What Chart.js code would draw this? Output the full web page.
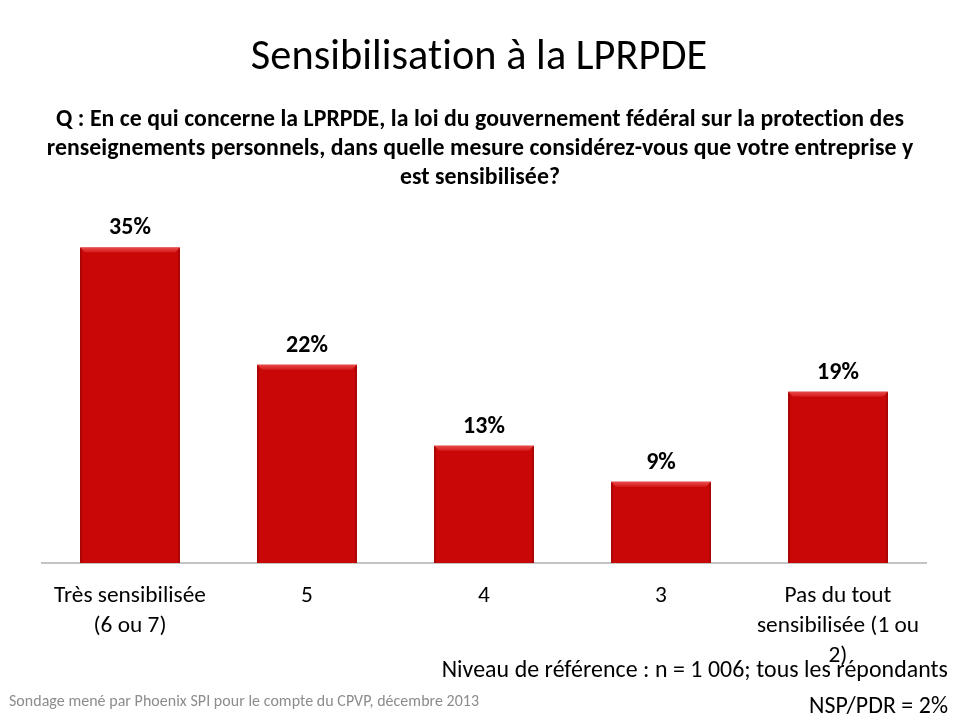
<!DOCTYPE html>
<html><head><meta charset="utf-8">
<script src="https://cdn.jsdelivr.net/npm/chart.js@4.4.1/dist/chart.umd.min.js"></script>
<style>html,body{margin:0;padding:0;background:#fff}#wrap{width:960px;height:720px;position:relative}</style>
</head><body><div id="wrap"><canvas id="c" width="960" height="720"></canvas></div>
<script>
// ---- data ----
const categories = [["Très sensibilisée", "(6 ou 7)"], "5", "4", "3", ["Pas du tout", "sensibilisée (1 ou", "2)"]];
const values = [35, 22, 13, 9, 19];
const valueLabels = ["35%", "22%", "13%", "9%", "19%"];
const yMin = 0, yMax = 40;
const titleText = "Sensibilisation à la LPRPDE";
const questionLines = [
  "Q : En ce qui concerne la LPRPDE, la loi du gouvernement fédéral sur la protection des",
  "renseignements personnels, dans quelle mesure considérez-vous que votre entreprise y",
  "est sensibilisée?"
];
const baseNote = "Niveau de référence : n = 1 006; tous les répondants";
const nspNote = "NSP/PDR = 2%";
const sourceNote = "Sondage mené par Phoenix SPI pour le compte du CPVP, décembre 2013";

// ---- helpers ----
const FAMILY = "Carlito, Lato, 'Open Sans', sans-serif";
const LS = '0.05px';
const mctx = document.createElement('canvas').getContext('2d');
function fitSize(text, weight, target) {
  mctx.font = weight + ' 20px ' + FAMILY;
  if ('letterSpacing' in mctx) mctx.letterSpacing = LS;
  return 20 * target / mctx.measureText(text).width;
}
const tickSize = fitSize("Très sensibilisée", "normal", 153);
const titleSize = fitSize(titleText, "normal", 458);
const qSize = fitSize(questionLines[1], "bold", 868);
const labSize = fitSize("35%", "bold", 42);
const noteSize = fitSize(baseNote, "normal", 507);
const srcSize = fitSize(sourceNote, "normal", 470);

function txt(ctx, s, x, y, size, weight, color, align) {
  ctx.save();
  ctx.font = weight + ' ' + size + 'px ' + FAMILY;
  if ('letterSpacing' in ctx) ctx.letterSpacing = LS;
  ctx.fillStyle = color;
  ctx.textAlign = align;
  ctx.textBaseline = 'alphabetic';
  ctx.fillText(s, x, y);
  ctx.restore();
}

const bevelPlugin = {
  id: 'bevel',
  afterDatasetsDraw(chart) {
    const ctx = chart.ctx;
    chart.getDatasetMeta(0).data.forEach(el => {
      const p = el.getProps(['x', 'y', 'base', 'width'], true);
      const l = p.x - p.width / 2, r = p.x + p.width / 2, t = p.y, b = p.base, d = 5;
      ctx.save();
      const g = ctx.createLinearGradient(0, t, 0, t + d);
      g.addColorStop(0, '#e84a4a');
      g.addColorStop(1, '#d41a1a');
      ctx.fillStyle = g;
      ctx.beginPath();
      ctx.moveTo(l, t); ctx.lineTo(r, t); ctx.lineTo(r - d, t + d); ctx.lineTo(l + d, t + d); ctx.closePath();
      ctx.fill();
      ctx.fillStyle = 'rgba(120,0,0,0.35)';
      ctx.fillRect(l, t + 1, 2, b - t - 1);
      ctx.fillRect(r - 2, t + 1, 2, b - t - 1);
      ctx.restore();
    });
  }
};

const textPlugin = {
  id: 'texts',
  afterDraw(chart) {
    const ctx = chart.ctx;
    txt(ctx, titleText, 479, 69, titleSize, 'normal', '#000', 'center');
    const qBase = [126, 155, 184];
    questionLines.forEach((s, i) => txt(ctx, s, 480, qBase[i], qSize, 'bold', '#000', 'center'));
    chart.getDatasetMeta(0).data.forEach((el, i) => {
      txt(ctx, valueLabels[i], el.x, el.y - 13, labSize, 'bold', '#000', 'center');
    });
    txt(ctx, baseNote, 948, 677, noteSize, 'normal', '#000', 'right');
    txt(ctx, nspNote, 948, 713, noteSize, 'normal', '#000', 'right');
    txt(ctx, sourceNote, 9, 706, srcSize, 'normal', '#8c8c8c', 'left');
  }
};

new Chart(document.getElementById('c'), {
  type: 'bar',
  data: {
    labels: categories,
    datasets: [{
      data: values,
      backgroundColor: '#c90707',
      borderWidth: 0,
      barPercentage: 0.565,
      categoryPercentage: 1.0
    }]
  },
  options: {
    responsive: false,
    animation: false,
    devicePixelRatio: 1,
    layout: { padding: { top: 202.4, left: 41.5, right: 33.5, bottom: 0 } },
    plugins: { legend: { display: false }, tooltip: { enabled: false }, title: { display: false } },
    scales: {
      y: { display: false, min: yMin, max: yMax },
      x: {
        grid: { display: false, drawTicks: false },
        border: { display: true, color: '#c4c4c4', width: 2 },
        ticks: {
          color: '#000',
          font: { family: FAMILY, size: tickSize, lineHeight: 30 / tickSize },
          padding: 18,
          maxRotation: 0, minRotation: 0, autoSkip: false
        },
        afterFit(scale) { scale.height = 157; }
      }
    }
  },
  plugins: [bevelPlugin, textPlugin]
});
</script>
</body></html>
